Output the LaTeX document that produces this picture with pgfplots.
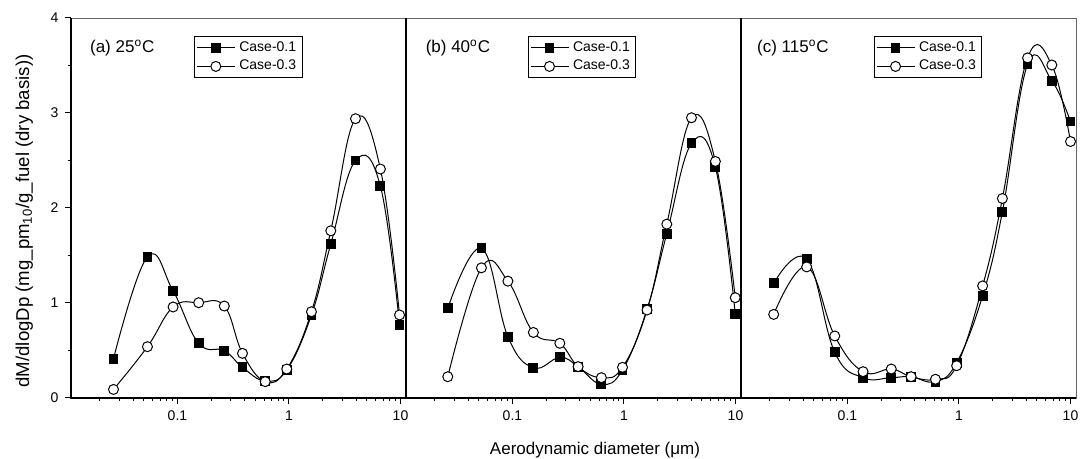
\documentclass[border=0pt]{standalone}
\usepackage{fontspec}
\setmainfont{Liberation Sans}
\usepackage{pgfplots}
\pgfplotsset{compat=1.18}

\pgfplotsset{
  every axis/.append style={
    scale only axis, width=167.5pt, height=190pt,
    xmin=0.0111, xmax=11.2, ymin=0, ymax=4,
    xtick={0.1,1,10}, xticklabels={0.1,1,10},
    minor xtick={0.02,0.03,0.04,0.05,0.06,0.07,0.08,0.09,0.2,0.3,0.4,0.5,0.6,0.7,0.8,0.9,2,3,4,5,6,7,8,9},
    tick align=outside, xtick pos=bottom, ytick pos=left,
    major tick length=2.8pt, minor tick length=1.6pt,
    tick style={black, line width=0.5pt},
    axis line style={draw=gray!80!black, line width=0.4pt},
    tick label style={font=\fontsize{7}{8}\selectfont},
    clip=false,
  },
  legend image code/.code={\draw[mark repeat=2,mark phase=2] plot coordinates {(0pt,0pt) (9.5pt,0pt) (19pt,0pt)};},
  every axis legend/.append style={anchor=north west, draw=black, line width=0.4pt,
      font=\fontsize{7}{8}\selectfont, inner xsep=1pt, inner ysep=0.5pt,
      row sep=-1pt, cells={anchor=west}},
  caseA/.style={black, line width=0.5pt, smooth, tension=0.7, mark=square*, mark size=2.2pt, mark options={fill=black, solid}},
  caseB/.style={black, line width=0.5pt, smooth, tension=0.7, mark=*, mark size=2.5pt, mark options={fill=white, solid}},
}

\newcommand{\plab}{\fontsize{8.5}{10}\selectfont}

\begin{document}
\begin{tikzpicture}
\useasboundingbox (-35.5pt,-30.5pt) rectangle (506pt,199pt);

% (a) 25 C
\begin{semilogxaxis}[name=p1, at={(0pt,0pt)}, anchor=south west,
  ytick={0,1,2,3,4}, yticklabels={0,1,2,3,4}, minor ytick={0.5,1.5,2.5,3.5},
  legend style={at={(rel axis cs:0.367,0.953)}}]
\addplot[caseA] coordinates {(0.0267,0.414) (0.0538,1.487) (0.0914,1.126) (0.155,0.576) (0.263,0.498) (0.383,0.323) (0.612,0.179) (0.955,0.295) (1.59,0.874) (2.37,1.62) (3.95,2.50) (6.6,2.23) (9.8,0.77)};
\addplot[caseB] coordinates {(0.0267,0.09) (0.0538,0.54) (0.0914,0.958) (0.155,1.003) (0.263,0.968) (0.383,0.47) (0.612,0.172) (0.955,0.305) (1.59,0.908) (2.37,1.76) (3.95,2.94) (6.6,2.41) (9.8,0.874)};
\legend{Case-0.1,Case-0.3}
\node[anchor=base west, font=\plab] at (rel axis cs:0.036,0.91) {(a) 25\textsuperscript{o}C};
\end{semilogxaxis}

% (b) 40 C
\begin{semilogxaxis}[name=p2, at={(167.5pt,0pt)}, anchor=south west, ytick=\empty,
  legend style={at={(rel axis cs:0.363,0.953)}}]
\addplot[caseA] coordinates {(0.0263,0.944) (0.0527,1.576) (0.091,0.645) (0.154,0.319) (0.266,0.428) (0.388,0.33) (0.627,0.144) (0.97,0.295) (1.61,0.934) (2.42,1.73) (4.03,2.68) (6.6,2.43) (9.95,0.884)};
\addplot[caseB] coordinates {(0.0263,0.224) (0.0527,1.37) (0.091,1.23) (0.154,0.69) (0.266,0.576) (0.388,0.33) (0.627,0.214) (0.97,0.323) (1.61,0.926) (2.42,1.83) (4.03,2.95) (6.6,2.49) (9.95,1.056)};
\legend{Case-0.1,Case-0.3}
\node[anchor=base west, font=\plab] at (rel axis cs:0.038,0.91) {(b) 40\textsuperscript{o}C};
\end{semilogxaxis}

% (c) 115 C
\begin{semilogxaxis}[name=p3, at={(335pt,0pt)}, anchor=south west, ytick=\empty,
  legend style={at={(rel axis cs:0.396,0.953)}}]
\addplot[caseA] coordinates {(0.0218,1.207) (0.0431,1.463) (0.0769,0.481) (0.138,0.214) (0.247,0.214) (0.372,0.224) (0.615,0.172) (0.953,0.372) (1.63,1.077) (2.45,1.96) (4.12,3.51) (6.8,3.34) (10,2.91)};
\addplot[caseB] coordinates {(0.0218,0.88) (0.0431,1.38) (0.0769,0.653) (0.138,0.277) (0.247,0.305) (0.372,0.224) (0.615,0.197) (0.953,0.34) (1.63,1.18) (2.45,2.10) (4.12,3.58) (6.8,3.505) (10,2.70)};
\legend{Case-0.1,Case-0.3}
\node[anchor=base west, font=\plab] at (rel axis cs:0.027,0.91) {(c) 115\textsuperscript{o}C};
\end{semilogxaxis}

% black left and bottom lines of each panel
\foreach \p in {p1,p2,p3}{
  \draw[black, line width=0.7pt] (\p.north west) -- (\p.south west) -- (\p.south east);
}

\node[rotate=90, anchor=base, font=\fontsize{9.3}{11}\selectfont] at (-21pt,88.5pt) {dM/dlogDp (mg\_pm\textsubscript{10}/g\_fuel (dry basis))};
\node[anchor=base, font=\plab] at (262pt,-28.5pt) {Aerodynamic diameter (μm)};
\end{tikzpicture}
\end{document}
